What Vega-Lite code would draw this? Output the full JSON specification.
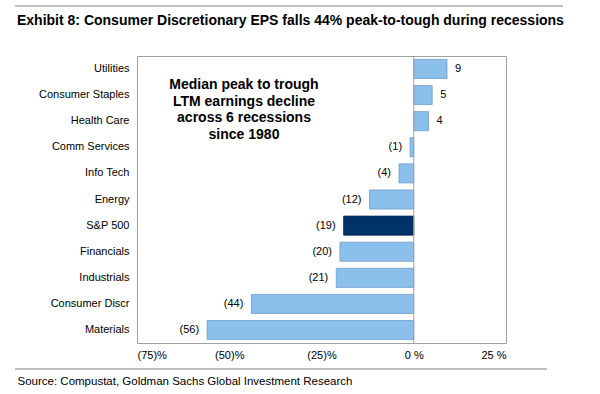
{
  "$schema": "https://vega.github.io/schema/vega-lite/v6.json",
  "autosize": "none",
  "width": 369,
  "height": 287,
  "padding": {"left": 137, "top": 56, "right": 94, "bottom": 51},
  "background": "white",
  "config": {
    "font": "Liberation Sans",
    "view": {"stroke": "#a0a0a0", "strokeWidth": 1}
  },
  "data": {
    "values": [
      {"sector": "Utilities", "value": 9},
      {"sector": "Consumer Staples", "value": 5},
      {"sector": "Health Care", "value": 4},
      {"sector": "Comm Services", "value": -1},
      {"sector": "Info Tech", "value": -4},
      {"sector": "Energy", "value": -12},
      {"sector": "S&P 500", "value": -19},
      {"sector": "Financials", "value": -20},
      {"sector": "Industrials", "value": -21},
      {"sector": "Consumer Discr", "value": -44},
      {"sector": "Materials", "value": -56}
    ]
  },
  "transform": [
    {"calculate": "datum.value < 0 ? '(' + abs(datum.value) + ')' : '' + datum.value", "as": "label"}
  ],
  "encoding": {
    "y": {
      "field": "sector",
      "type": "nominal",
      "sort": ["Utilities", "Consumer Staples", "Health Care", "Comm Services", "Info Tech", "Energy", "S&P 500", "Financials", "Industrials", "Consumer Discr", "Materials"],
      "scale": {"paddingInner": 0.27, "paddingOuter": 0.13},
      "axis": {
        "title": null,
        "domain": false,
        "ticks": false,
        "labelPadding": 8,
        "labelFontSize": 11,
        "labelColor": "#000000",
        "labelFont": "Liberation Sans"
      }
    }
  },
  "layer": [
    {
      "mark": {"type": "bar", "strokeWidth": 0.8},
      "encoding": {
        "x": {
          "field": "value",
          "type": "quantitative",
          "scale": {"domain": [-75, 25], "nice": false},
          "axis": {
            "values": [-75, -50, -25, 0, 25],
            "labelExpr": "datum.value < 0 ? '(' + abs(datum.value) + ')%' : datum.value + ' %'",
            "grid": false,
            "domain": false,
            "ticks": false,
            "labelPadding": 6,
            "labelFontSize": 11,
            "labelColor": "#000000",
            "labelFont": "Liberation Sans",
            "title": "Source: Compustat, Goldman Sachs Global Investment Research",
            "titleFontSize": 11.5,
            "titleFontWeight": "normal",
            "titleColor": "#000000",
            "titleFont": "Liberation Sans",
            "titleAlign": "left",
            "titleAnchor": "start",
            "titleBaseline": "middle",
            "titleX": -120,
            "titleY": 38
          }
        },
        "color": {
          "condition": {"test": "datum.sector === 'S&P 500'", "value": "#003466"},
          "value": "#8cc0ec"
        },
        "stroke": {
          "condition": {"test": "datum.sector === 'S&P 500'", "value": "#002650"},
          "value": "#6f9cc6"
        }
      }
    },
    {
      "transform": [{"filter": "datum.value >= 0"}],
      "mark": {"type": "text", "align": "left", "dx": 8, "fontSize": 11, "color": "#000000"},
      "encoding": {
        "x": {"field": "value", "type": "quantitative"},
        "text": {"field": "label"}
      }
    },
    {
      "transform": [{"filter": "datum.value < 0"}],
      "mark": {"type": "text", "align": "right", "dx": -8, "fontSize": 11, "color": "#000000"},
      "encoding": {
        "x": {"field": "value", "type": "quantitative"},
        "text": {"field": "label"}
      }
    },
    {
      "data": {"values": [{}]},
      "mark": {"type": "rule", "color": "#a0a0a0", "strokeWidth": 1},
      "encoding": {
        "x": {"datum": 0},
        "y": {"value": 0},
        "y2": {"value": 287}
      }
    },
    {
      "data": {"values": [{}]},
      "mark": {
        "type": "text",
        "text": ["Median peak to trough", "LTM earnings decline", "across 6 recessions", "since 1980"],
        "fontSize": 14,
        "fontWeight": "bold",
        "align": "center",
        "baseline": "middle",
        "lineHeight": 16.5,
        "fill": "#000000"
      },
      "encoding": {
        "x": {"datum": -46},
        "y": {"value": 29}
      }
    },
    {
      "data": {"values": [{}]},
      "mark": {
        "type": "text",
        "text": "Exhibit 8: Consumer Discretionary EPS falls 44% peak-to-tough during recessions",
        "fontSize": 14,
        "fontWeight": "bold",
        "align": "left",
        "baseline": "middle",
        "fill": "#000000"
      },
      "encoding": {
        "x": {"value": -120},
        "y": {"value": -35}
      }
    },
    {
      "data": {"values": [{}]},
      "mark": {"type": "rule", "color": "#808080", "strokeWidth": 1.2},
      "encoding": {
        "x": {"value": -122},
        "x2": {"value": 426},
        "y": {"value": -50}
      }
    },
    {
      "data": {"values": [{}]},
      "mark": {"type": "rule", "color": "#808080", "strokeWidth": 1.2},
      "encoding": {
        "x": {"value": -122},
        "x2": {"value": 410},
        "y": {"value": 313}
      }
    }
  ]
}
